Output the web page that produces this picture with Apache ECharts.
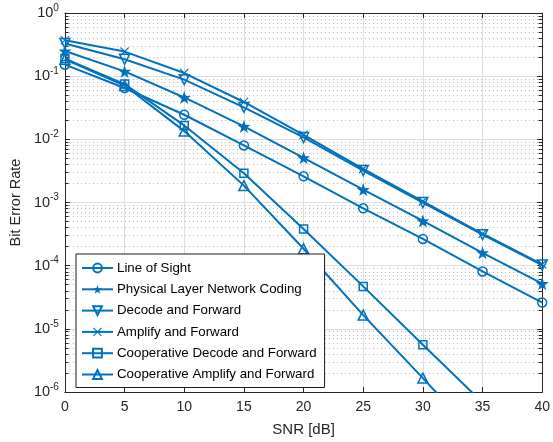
<!DOCTYPE html>
<html>
<head>
<meta charset="utf-8">
<script src="https://cdn.jsdelivr.net/npm/echarts@6/dist/echarts.min.js"></script>
<style>
html,body{margin:0;padding:0;background:#fff;}
#chart{width:553px;height:442px;}
</style>
</head>
<body>
<div id="chart"></div>
<script>
const snr = [0, 5, 10, 15, 20, 25, 30, 35, 40];
const xTicks = [0, 5, 10, 15, 20, 25, 30, 35, 40];
const yDecades = [1e-6, 1e-5, 1e-4, 1e-3, 1e-2, 1e-1, 1];
const seriesNames = ['Line of Sight', 'Physical Layer Network Coding', 'Decode and Forward',
  'Amplify and Forward', 'Cooperative Decode and Forward', 'Cooperative Amplify and Forward'];
const los  = [0.152, 0.065, 0.0245, 0.0080, 0.0026, 8.1e-4, 2.65e-4, 8.1e-5, 2.6e-5];
const plnc = [0.25, 0.119, 0.046, 0.016, 0.0051, 0.0016, 5.1e-4, 1.6e-4, 5.2e-5];
const df   = [0.33, 0.185, 0.088, 0.032, 0.0107, 0.0032, 1.0e-3, 3.1e-4, 1.02e-4];
const af   = [0.37, 0.245, 0.112, 0.039, 0.0118, 0.0034, 1.04e-3, 3.2e-4, 1.05e-4];
const cdf  = [0.19, 0.075, 0.0166, 0.0029, 3.8e-4, 4.7e-5, 5.6e-6, 6.8e-7];
const caf  = [0.185, 0.071, 0.0135, 0.00185, 1.85e-4, 1.65e-5, 1.66e-6, 1.6e-7];

const BLUE = '#0072BD';
const AXC = '#262626';
const FONT = '"Liberation Sans", Arial, Helvetica, sans-serif';

const STAR = 'path://M0,-10 L2.35,-3.24 9.51,-3.09 3.8,1.24 5.88,8.09 0,4 -5.88,8.09 -3.8,1.24 -9.51,-3.09 -2.35,-3.24Z';
const XMARK = 'path://M-5,-4.1 L-4.1,-5 0,-0.9 4.1,-5 5,-4.1 0.9,0 5,4.1 4.1,5 0,0.9 -4.1,5 -5,4.1 -0.9,0Z';
const TRIDOWN = 'path://M-5,-4 L5,-4 0,5Z';

function pairs(vals) { return vals.map((v, i) => [snr[i], v]); }

const hollow = {color: 'rgba(255,255,255,0)', borderColor: BLUE, borderWidth: 1.5};
const filled = {color: BLUE, borderColor: BLUE, borderWidth: 0};

const defs = [
  {vals: los, symbol: 'circle', size: 9, style: hollow},
  {vals: plnc, symbol: STAR, size: 13, style: filled},
  {vals: df, symbol: TRIDOWN, size: 10, style: hollow},
  {vals: af, symbol: XMARK, size: 9, style: filled},
  {vals: cdf, symbol: 'rect', size: 8, style: hollow},
  {vals: caf, symbol: 'triangle', size: 10, style: hollow}
];

// minor grid positions in log10 space (2..9 per decade), drawn on a hidden linear axis
const minorLogs = [];
for (let i = 0; i < yDecades.length - 1; i++) {
  for (let m = 2; m <= 9; m++) minorLogs.push(Math.log10(m * yDecades[i]));
}
const xMin = xTicks[0], xMax = xTicks[xTicks.length - 1];
const minorGrid = minorLogs.map(v => [{coord: [xMin, v]}, {coord: [xMax, v]}]);
const minorTicks = [];
minorLogs.forEach(v => {
  minorTicks.push([{coord: [xMin, v]}, {coord: [xMin + 0.3, v]}]);
  minorTicks.push([{coord: [xMax - 0.3, v]}, {coord: [xMax, v]}]);
});

const series = defs.map((d, i) => ({
  name: seriesNames[i],
  type: 'line',
  data: pairs(d.vals),
  symbol: d.symbol,
  symbolSize: d.size,
  showAllSymbol: true,
  clip: true,
  z: 5,
  lineStyle: {color: BLUE, width: 2},
  itemStyle: d.style,
  emphasis: {disabled: true},
  animation: false
}));

function markSeries(name, data, style, z) {
  return {
    name: name, type: 'line', yAxisIndex: 2, data: [], z: z, silent: true, animation: false,
    markLine: {
      silent: true, symbol: ['none', 'none'], animation: false,
      label: {show: false}, lineStyle: style, emphasis: {disabled: true}, data: data
    }
  };
}
series.push(markSeries('minorGrid', minorGrid, {color: '#b8b8b8', type: [1, 3], width: 1}, 1));
series.push(markSeries('minorTicks', minorTicks, {color: AXC, type: 'solid', width: 1}, 2));

const chart = echarts.init(document.getElementById('chart'), null, {renderer: 'canvas'});
chart.setOption({
  animation: false,
  backgroundColor: '#fff',
  textStyle: {fontFamily: FONT},
  grid: {left: 64, right: 7, top: 13, bottom: 48, show: false},
  legend: {
    data: seriesNames,
    orient: 'vertical',
    left: 76, top: 254,
    padding: [7, 8, 6, 5],
    itemGap: 7.3,
    itemWidth: 31,
    itemHeight: 11,
    backgroundColor: '#fff',
    borderColor: '#1a1a1a',
    borderWidth: 1,
    borderRadius: 0,
    selectedMode: false,
    textStyle: {fontSize: 13.3, color: '#000', fontFamily: FONT, lineHeight: 14, padding: [0, 0, 0, -1]},
    z: 10
  },
  xAxis: [{
    type: 'value', min: xMin, max: xMax, interval: 5,
    name: 'SNR [dB]', nameLocation: 'middle', nameGap: 30,
    nameTextStyle: {fontSize: 15, color: AXC, fontFamily: FONT},
    axisLine: {show: true, onZero: false, lineStyle: {color: AXC, width: 1}},
    axisTick: {show: true, inside: true, length: 5, lineStyle: {color: AXC}},
    axisLabel: {fontSize: 14, color: AXC, margin: 8, fontFamily: FONT},
    splitLine: {show: true, lineStyle: {color: '#dedede', width: 1}}
  }, {
    type: 'value', position: 'top', min: xMin, max: xMax, interval: 5,
    axisLine: {show: true, onZero: false, lineStyle: {color: AXC, width: 1}},
    axisTick: {show: true, inside: true, length: 5, lineStyle: {color: AXC}},
    axisLabel: {show: false},
    splitLine: {show: false}
  }],
  yAxis: [{
    type: 'log', logBase: 10, min: yDecades[0], max: yDecades[yDecades.length - 1],
    name: 'Bit Error Rate', nameLocation: 'middle', nameGap: 39, nameRotate: 90,
    nameTextStyle: {fontSize: 14.5, color: AXC, fontFamily: FONT},
    axisLine: {show: true, onZero: false, lineStyle: {color: AXC, width: 1}},
    axisTick: {show: true, inside: true, length: 5, lineStyle: {color: AXC}},
    axisLabel: {
      margin: 6, color: AXC, fontFamily: FONT,
      formatter: function (v) {
        const e = Math.round(Math.log10(v));
        return '{b|10}{s|' + e + '}';
      },
      rich: {
        b: {fontSize: 14.5, color: AXC, fontFamily: FONT},
        s: {fontSize: 10, color: AXC, fontFamily: FONT, padding: [0, 0, 10, 0]}
      }
    },
    splitLine: {show: true, lineStyle: {color: '#dedede', width: 1}}
  }, {
    type: 'log', logBase: 10, position: 'right', min: yDecades[0], max: yDecades[yDecades.length - 1],
    axisLine: {show: true, onZero: false, lineStyle: {color: AXC, width: 1}},
    axisTick: {show: true, inside: true, length: 5, lineStyle: {color: AXC}},
    axisLabel: {show: false},
    splitLine: {show: false}
  }, {
    type: 'value', show: false, min: Math.log10(yDecades[0]), max: Math.log10(yDecades[yDecades.length - 1]),
    splitLine: {show: false}
  }],
  series: series
});
</script>
</body>
</html>
